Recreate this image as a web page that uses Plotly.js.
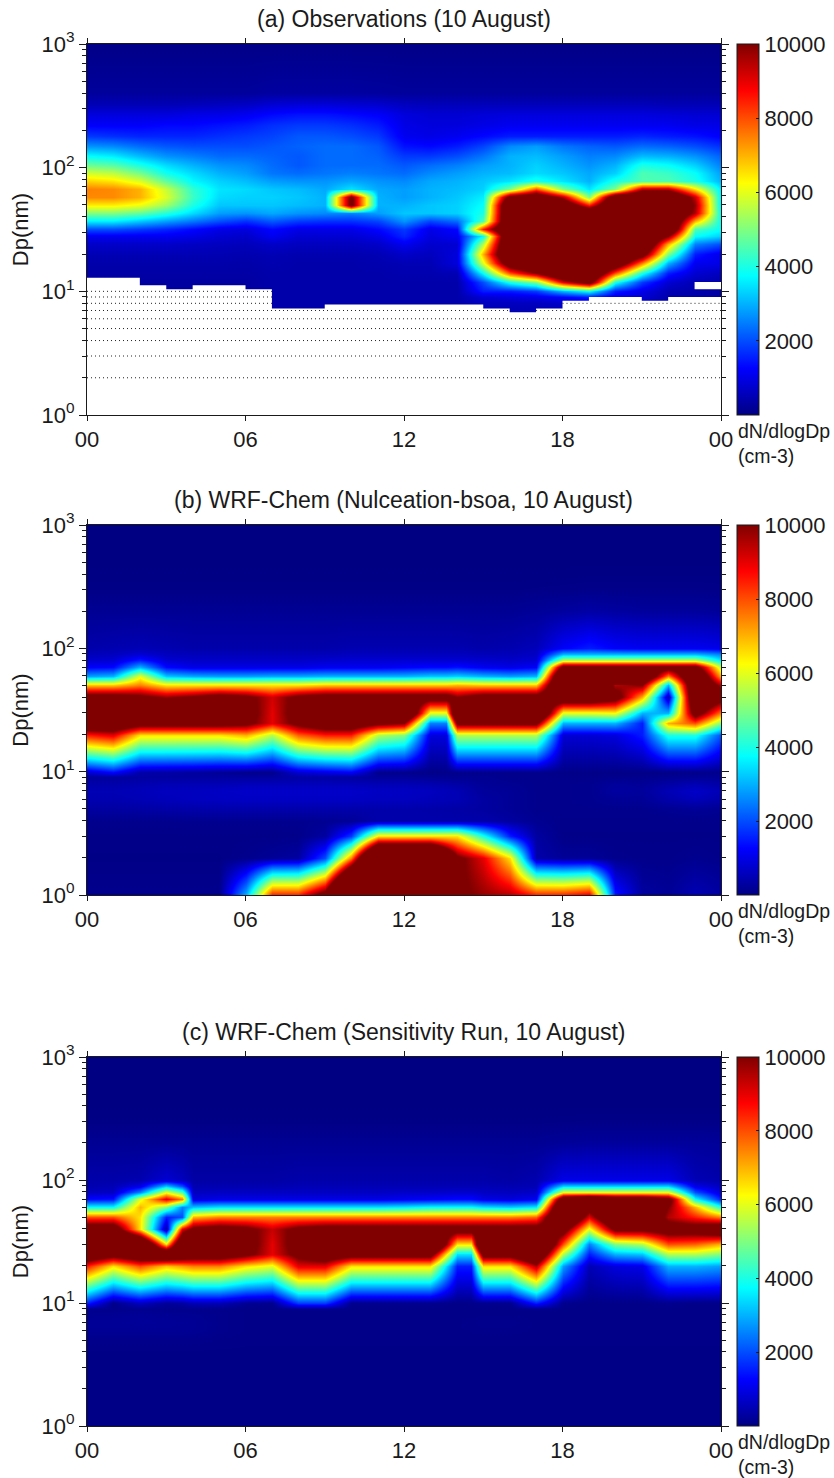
<!DOCTYPE html>
<html>
<head>
<meta charset="utf-8">
<script src="https://cdn.plot.ly/plotly-3.0.1.min.js"></script>
<style>html,body{margin:0;padding:0;background:#fff}#chart{width:834px;height:1478px}</style>
</head>
<body>
<div id="chart"></div>
<script>
var obsHours = [0,1,2,3,4,5,6,7,8,9,10,11,12,13,14,15,16,17,18,19,20,21,22,23,24];
var bsoaHours = [0,1,2,3,4,5,6,7,8,9,10,11,12,13,13.6,14,15,16,17,18,19,20,21,22,23,24];
var sensHours = [0,1,2,3,3.6,4,5,6,7,8,9,10,11,12,13,14,14.55,15,16,17,18,19,20,21,22,23,24];
var xTickVals = [0,6,12,18,24];
var xTickText = ['00','06','12','18','00'];
var yTickVals = [1,10,100,1000];
var yTickText = ['10<sup>0</sup>','10<sup>1</sup>','10<sup>2</sup>','10<sup>3</sup>'];
var yMinorVals = [2,3,4,5,6,7,8,9,20,30,40,50,60,70,80,90,200,300,400,500,600,700,800,900];
var cbTickVals = [2000,4000,6000,8000,10000];
var cbTickText = ['2000','4000','6000','8000','10000'];
var panelTitles = ['(a) Observations (10 August)','(b) WRF-Chem (Nulceation-bsoa, 10 August)','(c) WRF-Chem (Sensitivity Run, 10 August)'];
var yAxisTitle = 'Dp(nm)';
var cbCaption = 'dN/dlogDp<br>(cm-3)';

// Diameter levels (nm)
var obsLevels = [6,7,8,9,10,12,14,17,20,24, 28,32,37,43,50,58,67,78,90,105, 125,150,180,220,270,330,400,1000];
var modelLevels = [1,2,3,4,5,6,7,8,9,10, 20,25,30,40,50,60,70,80,90,100, 200,300,400,500,600,700,800,900,1000];

// Each line: one time step, lowest diameter first
var obsByHour = [
[300,300,300,300,300,300,350,400,500,700, 1100,2000,3600,5000,6400,7400,7500,6700,5800,4800, 3800,2700,1800,1200,900,500,250,50],
[300,300,300,300,300,300,350,400,500,700, 1100,2000,3600,5000,6400,7400,7400,6500,5600,4600, 3600,2600,1700,1200,900,500,250,50],
[300,300,300,300,300,300,350,400,500,700, 1100,1800,3200,4700,6100,7000,7000,5900,4900,4000, 3100,2300,1600,1200,900,500,250,50],
[300,300,300,300,300,300,350,400,500,700, 1100,1600,2800,4100,5300,5900,5700,4700,3900,3400, 2700,2100,1600,1300,900,500,250,50],
[300,300,300,300,300,300,350,400,500,650, 1000,1300,2400,3400,4000,4300,4200,3700,3400,3000, 2500,2000,1600,1300,1000,550,250,50],
[300,300,300,300,300,300,350,400,480,600, 800,1000,2000,2800,3200,3400,3500,3300,3000,2700, 2300,2000,1700,1400,1000,600,250,50],
[300,300,300,300,300,300,350,380,450,550, 700,900,1700,2700,3200,3300,3400,3100,2800,2600, 2300,2000,1800,1500,1100,650,250,50],
[400,400,400,400,400,400,400,450,500,700, 1100,1300,2100,2900,3200,3300,3200,2800,2400,2300, 2200,2100,1900,1700,1300,800,300,50],
[400,400,400,400,400,400,400,400,450,600, 800,1000,1800,2700,3100,3200,3100,2700,2300,2100, 2100,2200,2100,1800,1400,850,300,50],
[400,400,400,400,400,400,400,400,450,600, 800,1000,1700,2600,3000,3000,2900,2700,2400,2300, 2300,2300,2100,1800,1400,850,300,50],
[400,400,400,400,400,400,400,400,450,600, 800,1000,1700,2500,10500,10500,3500,2900,2500,2300, 2300,2300,2000,1700,1300,800,300,50],
[400,400,400,400,400,400,400,450,500,700, 1000,1300,1900,2800,3000,3000,2900,2700,2400,2300, 2200,2100,1800,1500,1200,750,280,50],
[400,400,400,400,400,400,450,500,700,1100, 1600,1800,2700,3200,3000,2800,2800,2600,2300,2100, 1800,1400,1100,1000,900,600,250,50],
[400,400,400,400,400,400,450,500,600,750, 900,1000,1900,3200,3200,3000,3000,2900,2600,2300, 1800,1300,1000,900,800,550,250,50],
[400,400,400,400,400,400,500,900,900,800, 1100,1300,2300,3300,3300,3200,3100,3000,2800,2500, 2000,1500,1100,900,800,550,250,50],
[500,500,600,800,1500,2000,3800,6000,7000,5500, 3800,8500,4500,4000,3800,3600,3300,3200,3000,2800, 2400,1900,1300,1000,850,550,250,50],
[500,500,600,900,1500,4000,8000,11500,13000,13000, 13000,13000,13000,13000,13000,11000,5000,3500,3100,3000, 3000,2600,1500,1100,900,550,250,50],
[500,500,600,1000,1800,5000,10000,13000,13000,13000, 13000,13000,13000,13000,13000,12000,8000,4000,3400,3300, 3100,2800,1500,1100,900,550,250,50],
[500,500,700,1200,3000,9000,13000,13000,13000,13000, 13000,13000,13000,13000,12000,9500,5000,3500,3200,3000, 2800,2400,1500,1100,900,550,250,50],
[500,600,800,1500,3800,11000,13000,13000,13000,13000, 13000,13000,13000,13000,8500,5000,3500,3000,2900,2700, 2500,2200,1500,1100,900,550,250,50],
[500,500,600,1000,1500,4000,8000,12000,13000,13000, 13000,13000,13000,13000,13000,12000,5000,4000,3300,3000, 2600,2100,1500,1100,900,550,250,50],
[400,400,500,800,1000,1800,4000,7500,11000,13000, 13000,13000,13000,13000,13000,13000,9500,4500,4500,4000, 3100,2300,1600,1100,900,550,250,50],
[300,300,350,400,500,800,1500,3000,5000,7000, 10000,13000,13000,13000,13000,13000,9500,4500,4300,3800, 3000,2200,1500,1100,850,500,250,50],
[300,300,350,400,400,500,800,1100,1500,2500, 3800,4500,7000,9500,9800,9300,6500,4000,3800,3300, 2700,2000,1400,1000,800,500,250,50],
[300,300,300,300,300,400,600,1000,1000,2000, 3300,3800,3800,3700,3500,3500,3500,3000,2800,2500, 2200,1700,1200,1000,800,500,250,50]
];

var bsoaByHour = [
[100,40,60,100,300,450,500,400,250,800, 8500,12000,14000,11000,6800,2800,1200,750,550,400, 170,40,10,0,0,0,0,0,0],
[100,40,60,100,300,450,500,400,250,1300, 9000,12000,14000,11000,6800,3000,1300,800,600,450, 170,40,10,0,0,0,0,0,0],
[100,40,60,100,320,500,550,450,300,400, 6500,11000,14000,10500,7500,6000,3000,1500,800,500, 170,40,10,0,0,0,0,0,0],
[100,40,60,100,350,550,600,500,300,350, 6500,11000,14000,9800,6500,3200,1300,800,600,450, 170,40,10,0,0,0,0,0,0],
[100,40,60,120,380,600,600,500,300,300, 6500,11000,14000,10300,6500,2900,1000,700,550,400, 170,40,10,0,0,0,0,0,0],
[100,40,60,120,400,620,650,500,300,200, 6500,11000,14000,11000,6500,2800,1000,700,550,400, 170,40,10,0,0,0,0,0,0],
[3000,100,60,120,400,650,700,550,300,100, 7000,10500,10800,10500,6500,2800,1000,700,550,400, 170,40,10,0,0,0,0,0,0],
[8500,200,60,120,400,650,700,550,300,100, 5500,9000,9000,9200,6500,2900,1000,700,550,400, 170,40,10,0,0,0,0,0,0],
[8500,300,80,120,400,650,700,550,350,800, 7800,10500,10800,10500,6500,2900,1000,700,550,400, 170,40,10,0,0,0,0,0,0],
[11000,2000,300,150,400,650,700,550,350,1000, 8500,11500,14000,11000,6800,3000,1100,750,550,400, 170,40,10,0,0,0,0,0,0],
[20000,7500,1800,200,400,650,700,550,300,1200, 8500,11500,14000,11000,6800,3000,1100,800,600,450, 170,40,10,0,0,0,0,0,0],
[20000,17000,6500,400,400,600,650,500,250,100, 5500,10500,14000,11000,6800,3000,1100,800,600,450, 170,40,10,0,0,0,0,0,0],
[20000,17000,6500,400,400,600,650,500,250,100, 5000,10000,14000,11000,6800,3000,1200,800,600,450, 170,40,10,0,0,0,0,0,0],
[20000,17000,6500,400,380,550,600,450,200,50, 900,2500,6000,11000,6800,3200,1300,800,600,450, 170,40,10,0,0,0,0,0,0],
[15000,13000,6500,400,360,520,550,400,170,70, 900,2500,6000,11000,6800,3200,1300,800,600,450, 170,40,10,0,0,0,0,0,0],
[10300,10400,6500,400,350,500,500,350,150,100, 5500,10500,14000,10000,7000,3300,1400,800,600,450, 170,40,10,0,0,0,0,0,0],
[9800,9000,4000,400,300,300,250,200,150,100, 5500,10500,14000,11000,6800,3000,1100,750,550,400, 170,40,10,0,0,0,0,0,0],
[9500,6500,1500,300,200,200,200,150,100,100, 5500,10500,14000,11000,6800,2800,1000,700,550,450, 170,40,10,0,0,0,0,0,0],
[8500,400,300,150,100,100,100,100,100,100, 5500,10500,14000,11000,6800,3000,1200,800,650,550, 220,50,10,0,0,0,0,0,0],
[8500,200,60,80,100,100,100,100,80,50, 800,3000,6000,12000,14000,14000,11000,5500,3000,1200, 280,60,10,0,0,0,0,0,0],
[9000,200,60,80,100,120,120,120,80,50, 800,3000,6000,12000,14000,14000,11000,5500,3000,1500, 350,70,20,0,0,0,0,0,0],
[1500,100,60,80,100,200,300,250,100,50, 900,3000,6200,11000,9500,14000,11000,5500,3000,1200, 300,70,20,0,0,0,0,0,0],
[300,80,60,80,100,200,250,200,100,50, 1500,1500,3000,7000,10000,13000,11000,5500,3000,1100, 250,70,20,0,0,0,0,0,0],
[200,80,60,80,150,400,500,350,150,50, 4000,7000,3000,400,3000,7500,11000,5500,3000,1100, 250,70,20,0,0,0,0,0,0],
[500,120,60,80,200,550,700,500,200,80, 4000,8000,11000,13000,13000,13000,11000,5500,3000,1100, 250,70,20,0,0,0,0,0,0],
[300,80,60,80,150,400,500,350,200,100, 2000,5000,7500,11000,9500,7000,5500,3500,2500,1000, 220,60,20,0,0,0,0,0,0]
];

var sensByHour = [
[40,40,40,40,80,180,200,150,100,1500, 8500,12000,15000,11500,8000,3800,1300,600,450,400, 170,30,0,0,0,0,0,0,0],
[40,40,40,40,80,180,200,170,100,50, 6500,11000,15000,11500,8000,3800,1400,650,500,400, 170,30,0,0,0,0,0,0,0],
[40,40,40,40,80,180,220,200,120,600, 8000,12000,14000,6500,6500,7000,6000,2500,1000,450, 170,30,0,0,0,0,0,0,0],
[40,40,40,40,80,180,200,170,100,200, 6800,13000,6500,300,1500,5000,9000,6000,3200,800, 170,30,0,0,0,0,0,0,0],
[40,40,40,40,80,175,190,160,100,300, 7200,12000,13000,9000,2000,2500,7500,4500,2000,600, 170,30,0,0,0,0,0,0,0],
[40,40,40,40,80,170,180,150,100,500, 7500,11500,15000,10500,7000,3200,900,600,450,350, 170,30,0,0,0,0,0,0,0],
[40,40,40,40,60,100,100,100,80,500, 7500,11500,15000,11000,7500,3500,1000,650,450,350, 170,30,0,0,0,0,0,0,0],
[40,40,40,40,50,60,60,60,60,150, 6500,10500,10800,10500,7500,3500,1000,650,450,350, 170,30,0,0,0,0,0,0,0],
[40,40,40,40,50,60,60,60,60,100, 6000,9000,9000,9300,7500,3500,1000,650,450,350, 170,30,0,0,0,0,0,0,0],
[40,40,40,40,50,60,60,60,60,1800, 9000,10500,10800,10500,7500,3500,1000,650,500,400, 170,30,0,0,0,0,0,0,0],
[40,40,40,40,50,60,60,60,60,1800, 9000,11500,15000,11000,7500,3500,1000,650,500,400, 170,30,0,0,0,0,0,0,0],
[40,40,40,40,50,60,60,60,60,100, 6500,11000,15000,11000,7500,3500,1000,650,500,400, 170,30,0,0,0,0,0,0,0],
[40,40,40,40,50,60,60,60,60,100, 6500,11000,15000,11000,7500,3500,1000,650,500,400, 170,30,0,0,0,0,0,0,0],
[40,40,40,40,50,60,60,60,60,100, 6500,11000,15000,11000,7500,3600,1100,700,500,400, 170,30,0,0,0,0,0,0,0],
[40,40,40,40,50,60,60,60,60,100, 6500,11000,15000,11000,7500,3800,1200,700,500,400, 170,30,0,0,0,0,0,0,0],
[40,40,40,40,50,60,60,60,60,50, 1500,3500,6500,11000,7500,3800,1300,750,500,400, 170,30,0,0,0,0,0,0,0],
[40,40,40,40,50,70,80,60,60,70, 1500,3500,6500,11000,7500,3800,1300,750,500,400, 170,30,0,0,0,0,0,0,0],
[40,40,40,40,50,80,100,60,60,100, 6500,11000,15000,11000,7500,3500,1000,650,500,400, 170,30,0,0,0,0,0,0,0],
[40,40,40,40,50,80,100,60,60,100, 6500,11000,15000,11000,7500,3300,900,600,450,350, 170,30,0,0,0,0,0,0,0],
[40,40,40,40,50,60,60,60,60,1500, 9500,13000,15000,11000,7800,3600,1100,700,500,450, 170,30,0,0,0,0,0,0,0],
[40,40,40,40,50,60,60,60,60,100, 2800,5500,8000,11000,14000,14000,12000,6000,3300,1000, 220,40,0,0,0,0,0,0,0],
[40,40,40,40,50,60,60,60,60,50, 500,1500,2500,6000,9000,11000,13000,6000,3300,1000, 250,50,0,0,0,0,0,0,0],
[40,40,40,40,50,60,60,60,60,50, 900,3000,5000,10500,13000,13000,12000,6000,3300,1000, 250,50,0,0,0,0,0,0,0],
[40,40,40,40,50,60,60,60,60,50, 1000,3200,5500,10500,13000,13000,12000,6000,3300,1000, 250,50,0,0,0,0,0,0,0],
[40,40,40,40,50,60,60,60,60,100, 3000,5500,8000,11000,9500,10000,11000,6000,3300,1000, 250,50,0,0,0,0,0,0,0],
[40,40,40,40,50,60,60,60,60,50, 3000,5500,7800,11000,8500,7000,3800,2000,1000,500, 250,50,0,0,0,0,0,0,0],
[40,40,40,40,50,60,60,60,60,50, 2800,5000,7000,12000,7500,4000,1500,800,600,400, 220,50,0,0,0,0,0,0,0]
];

// Observation lower limit (nm) per hour step: below it there is no data
var limitEdges = [0,1,2,3,4,5,6,7,8,9,10,11,12,13,14,15,16,17,18,19,20,21,22,23,24];
var obsLimit = [12.9,12.9,11.2,10.4,11.2,11.2,10.4,7.27,7.27,7.83,7.83,7.83,7.83,7.83,7.83,7.27,6.79,7.27,8.39,8.98,8.98,8.39,8.98,8.98,8.98];
var axisFloor = 1;
var gapHours = [23,24,24,23];
var gapSizes = [10.4,10.4,11.9,11.9];

// Dotted instrument channels and the hour spans where they are visible
var dottedLevels = [2,3,4,5,6,7,8,9,10];
var dottedSpans = [[[0,24]],[[0,24]],[[0,24]],[[0,24]],[[0,24]],[[0,16],[17,24]],[[0,7],[18,24]],[[0,7]],[[0,7]]];

var jet = [[0,'rgb(0,0,131)'],[0.125,'rgb(0,0,255)'],[0.375,'rgb(0,255,255)'],[0.625,'rgb(255,255,0)'],[0.875,'rgb(255,0,0)'],[1,'rgb(128,0,0)']];
var INK = '#1a1a1a';
var FONT = '"Liberation Sans", Arial, sans-serif';
var W = 834, H = 1478;
var panels = [{top:44,bottom:415},{top:525,bottom:895},{top:1057,bottom:1426}];
var LEFT = 87, RIGHT = 721, CB_X = 737, CB_W = 22;

function transpose(m){ return m[0].map(function(_,i){ return m.map(function(r){ return r[i]; }); }); }

var traces = [], layout = {
  width:W, height:H, margin:{l:0,r:0,t:0,b:0,autoexpand:false},
  paper_bgcolor:'#fff', plot_bgcolor:'#fff', showlegend:false,
  font:{family:FONT,size:22,color:INK}, annotations:[]
};
var datasets = [[obsHours,obsLevels,obsByHour],[bsoaHours,modelLevels,bsoaByHour],[sensHours,modelLevels,sensByHour]];

panels.forEach(function(p,i){
  var sfx = i===0 ? '' : String(i+1);
  var xn = 'x'+sfx, yn = 'y'+sfx;
  var axBase = {showgrid:false, zeroline:false, showline:true, linecolor:INK, linewidth:1, mirror:'allticks',
                ticks:'outside', tickcolor:INK, tickfont:{family:FONT,size:22,color:INK}, layer:'above traces'};
  layout['xaxis'+sfx] = Object.assign({}, axBase, {
    domain:[LEFT/W,RIGHT/W], range:[0,24], anchor:yn, ticklen:5, tickmode:'array', tickvals:xTickVals, ticktext:xTickText});
  layout['yaxis'+sfx] = Object.assign({}, axBase, {
    domain:[(H-p.bottom)/H,(H-p.top)/H], type:'log', range:[0,3], anchor:xn, ticklen:7, tickmode:'array',
    tickvals:yTickVals, ticktext:yTickText,
    minor:{ticks:'outside',ticklen:4,tickcolor:INK,tickmode:'array',tickvals:yMinorVals,showgrid:false},
    title:{text:yAxisTitle,font:{family:FONT,size:22,color:INK},standoff:6}});
  traces.push({
    type:'heatmap', xaxis:xn, yaxis:yn, x:datasets[i][0], y:datasets[i][1], z:transpose(datasets[i][2]),
    zsmooth:'best', zauto:false, zmin:0, zmax:10000, colorscale:jet, hoverinfo:'skip',
    colorbar:{x:CB_X/W, xanchor:'left', thickness:CB_W, thicknessmode:'pixels',
      y:(H-(p.top+p.bottom)/2)/H, yanchor:'middle', len:p.bottom-p.top, lenmode:'pixels',
      xpad:0, ypad:0, outlinewidth:1, outlinecolor:INK, borderwidth:0,
      tickmode:'array', tickvals:cbTickVals, ticktext:cbTickText, ticks:'inside', ticklen:3, tickcolor:INK,
      tickfont:{family:FONT,size:22,color:INK}}
  });
  layout.annotations.push({xref:'paper',yref:'paper',x:403.5/W,y:(H-(p.top-25))/H,xanchor:'center',yanchor:'middle',
    showarrow:false,text:panelTitles[i],font:{family:FONT,size:23,color:INK}});
  layout.annotations.push({xref:'paper',yref:'paper',x:(CB_X-1)/W,y:(H-(p.bottom+28))/H,xanchor:'left',yanchor:'middle',align:'left',
    showarrow:false,text:cbCaption,font:{family:FONT,size:19.5,color:INK}});
});

// Panel (a): white mask where the instrument has no data
traces.push({type:'scatter',mode:'lines',xaxis:'x',yaxis:'y',hoverinfo:'skip',
  x:limitEdges.concat([24,0]), y:obsLimit.concat([axisFloor,axisFloor]),
  fill:'toself',fillcolor:'#fff',line:{width:0,shape:'hv',color:'#fff'}});
traces.push({type:'scatter',mode:'lines',xaxis:'x',yaxis:'y',hoverinfo:'skip',
  x:gapHours,y:gapSizes,fill:'toself',fillcolor:'#fff',line:{width:0,color:'#fff'}});

dottedLevels.forEach(function(lv,k){
  var xs = [], ys = [];
  dottedSpans[k].forEach(function(s){ xs.push(s[0],s[1],null); ys.push(lv,lv,null); });
  traces.push({type:'scatter',mode:'lines',xaxis:'x',yaxis:'y',x:xs,y:ys,hoverinfo:'skip',
    line:{color:'#222',width:1,dash:'1px,3px'}});
});

Plotly.newPlot('chart',traces,layout,{staticPlot:true,displayModeBar:false});
</script>
</body>
</html>
